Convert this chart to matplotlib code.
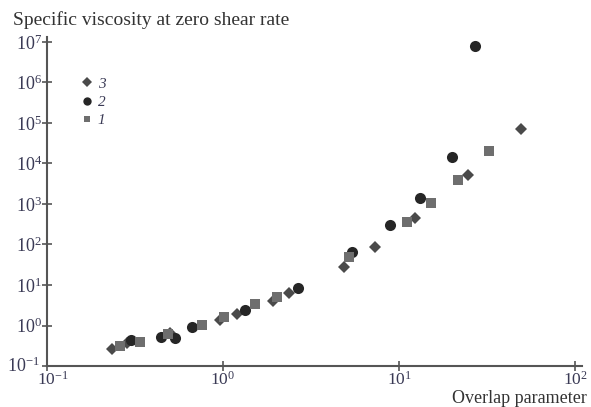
import matplotlib
matplotlib.use("Agg")
import matplotlib.pyplot as plt
from matplotlib.ticker import NullLocator, FixedLocator
from matplotlib.transforms import ScaledTranslation

plt.rcParams['font.family'] = ['Liberation Serif', 'DejaVu Serif']
plt.rcParams['mathtext.fontset'] = 'custom'
plt.rcParams['mathtext.rm'] = 'Liberation Serif'
plt.rcParams['mathtext.it'] = 'Liberation Serif:italic'

# Series 3 (diamonds)
x3 = [0.233, 0.284, 0.50, 0.96, 1.2, 1.93, 2.38, 4.89, 7.3, 12.3, 24.5, 49.3]
y3 = [0.258, 0.36, 0.64, 1.37, 1.92, 4.1, 6.2, 28.3, 88, 459, 5200, 7.1e4]
# Series 2 (circles)
x2 = [0.30, 0.443, 0.534, 0.664, 1.33, 2.65, 5.38, 8.9, 13.2, 20.1, 27.0]
y2 = [0.44, 0.53, 0.50, 0.93, 2.41, 8.28, 66.5, 303, 1380, 1.42e4, 8.1e6]
# Series 1 (squares)
x1 = [0.26, 0.338, 0.49, 0.757, 1.01, 1.51, 2.02, 5.2, 11.1, 15.2, 21.5, 32.6]
y1 = [0.316, 0.40, 0.60, 1.03, 1.65, 3.33, 5.1, 48, 353, 1040, 3900, 2.07e4]

xticks = [0.1, 1, 10, 100]
xticklabels = ['$10^{-1}$', '$10^{0}$', '$10^{1}$', '$10^{2}$']
yticks = [0.1, 1, 10, 100, 1e3, 1e4, 1e5, 1e6, 1e7]
yticklabels = ['$10^{-1}$', '$10^{0}$', '$10^{1}$', '$10^{2}$', '$10^{3}$',
               '$10^{4}$', '$10^{5}$', '$10^{6}$', '$10^{7}$']

fig = plt.figure(figsize=(5.91, 4.07), dpi=100)
ax = fig.add_axes([0.0795, 0.1007, 0.9055, 0.8083])
ax.set_xscale('log')
ax.set_yscale('log')
ax.set_xlim(0.1, 10 ** 2.04)
ax.set_ylim(0.1, 10 ** 7.12)

ax.plot(x3, y3, linestyle='none', marker='D', markersize=6.5, color='#4a4a4a',
        markeredgewidth=0, label='3')
ax.plot(x2, y2, linestyle='none', marker='o', markersize=8, color='#262626',
        markeredgewidth=0, label='2')
ax.plot(x1, y1, linestyle='none', marker='s', markersize=6.5, color='#6e6e6e',
        markeredgewidth=0, label='1')

for s in ['top', 'right']:
    ax.spines[s].set_visible(False)
for s in ['left', 'bottom']:
    ax.spines[s].set_color('#555555')
    ax.spines[s].set_linewidth(1.5)

ax.xaxis.set_major_locator(FixedLocator(xticks))
ax.set_xticklabels(xticklabels)
ax.yaxis.set_major_locator(FixedLocator(yticks))
ax.set_yticklabels(yticklabels)
ax.xaxis.set_minor_locator(NullLocator())
ax.yaxis.set_minor_locator(NullLocator())
ax.tick_params(axis='both', which='major', direction='inout', length=7,
               width=1.2, color='#555555', labelsize=13, labelcolor='#3a3a55')
ax.tick_params(axis='y', pad=0)
ax.tick_params(axis='x', pad=0, labelsize=12.5)

# nudge the two corner labels apart so they do not collide
xl0 = ax.get_xticklabels()[0]
xl0.set_transform(xl0.get_transform() + ScaledTranslation(6 / 100, 0, fig.dpi_scale_trans))
yl0 = ax.get_yticklabels()[0]
yl0.set_transform(yl0.get_transform() + ScaledTranslation(-2 / 100, 2 / 100, fig.dpi_scale_trans))

leg = ax.legend(loc='upper left', bbox_to_anchor=(0.035, 0.92), frameon=False,
                prop={'family': 'Liberation Serif', 'style': 'italic', 'size': 11},
                handletextpad=0.2, labelspacing=0.3, handlelength=1.0,
                markerscale=0.75)
for t in leg.get_texts():
    t.set_color('#3a3a55')

fig.text(0.022, 0.951, 'Specific viscosity at zero shear rate', fontsize=14,
         color='#333333', ha='left', va='center')
fig.text(0.993, 0.01, 'Overlap parameter', fontsize=13, color='#333333',
         ha='right', va='baseline')

fig.savefig('out.png', dpi=100)
